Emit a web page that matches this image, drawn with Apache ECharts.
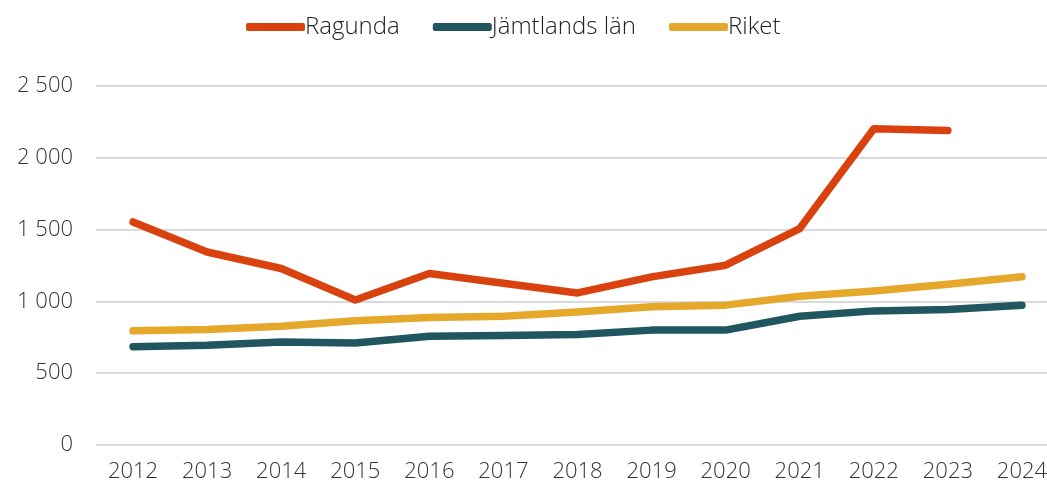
<!DOCTYPE html>
<html><head><meta charset="utf-8">
<script src="https://cdn.jsdelivr.net/npm/echarts@6/dist/echarts.min.js"></script>
<style>html,body{margin:0;padding:0;background:#fff}#c{width:1047px;height:486px}</style>
</head><body><div id="c"></div>
<script>
const categories = ['2012','2013','2014','2015','2016','2017','2018','2019','2020','2021','2022','2023','2024'];
const ragunda = [1553,1344,1229,1010,1194,1127,1059,1171,1252,1507,2202,2190,null];
const jamtland = [684,695,718,711,758,763,770,800,800,897,934,943,974];
const riket = [795,804,827,865,888,897,927,962,974,1036,1073,1120,1171];
const seriesNames = ['Ragunda','Jämtlands län','Riket'];
const colors = ['#D9410E','#1F5660','#E6A82A'];
const FONT = '"Open Sans", sans-serif';
const chart = echarts.init(document.getElementById('c'), null, {renderer:'canvas'});
const mk = (name, data, color) => ({
  name, type:'line', data, symbol:'none', smooth:false,
  lineStyle:{width:7.5, color, cap:'round', join:'round'}, itemStyle:{color}
});
chart.setOption({
  animation:false,
  color: colors,
  legend:{
    top:10, left:241, itemWidth:59, itemHeight:8, itemGap:33,
    icon:'roundRect',
    textStyle:{fontFamily:FONT, fontWeight:300, fontSize:24, color:'#222', padding:[0,0,0,-5]},
    data: seriesNames
  },
  grid:{left:96, top:86, width:963, bottom:41, containLabel:false, outerBoundsMode:'none'},
  xAxis:{
    type:'category', data:categories, boundaryGap:true,
    axisLine:{show:false}, axisTick:{show:false},
    axisLabel:{fontFamily:FONT, fontWeight:300, fontSize:22, color:'#333', margin:16}
  },
  yAxis:{
    type:'value', min:0, max:2500, interval:500,
    axisLine:{show:false}, axisTick:{show:false},
    splitLine:{lineStyle:{color:'#d9d9d9', width:2}},
    axisLabel:{fontFamily:FONT, fontWeight:300, fontSize:22, color:'#333', margin:23,
      formatter:v=>String(v).replace(/\B(?=(\d{3})+(?!\d))/g,' ')}
  },
  series:[mk(seriesNames[0],ragunda,colors[0]), mk(seriesNames[1],jamtland,colors[1]), mk(seriesNames[2],riket,colors[2])]
});
</script></body></html>
